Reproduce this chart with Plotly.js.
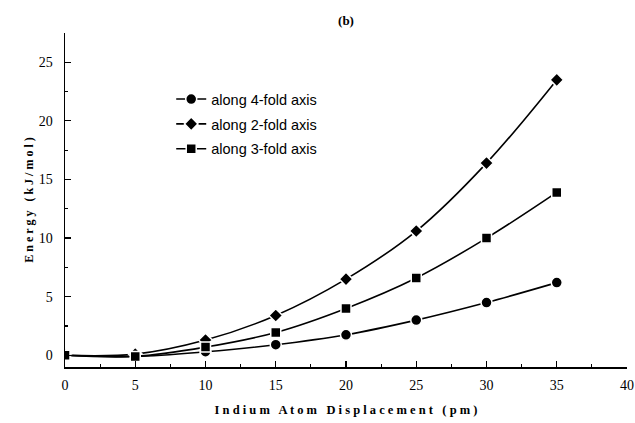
<!DOCTYPE html>
<html><head><meta charset="utf-8">
<script src="https://cdn.plot.ly/plotly-3.0.1.min.js"></script>
<style>body{margin:0;background:#fff}#c{width:635px;height:423px}</style>
</head><body><div id="c"></div>
<script>
const displacement = [0, 5, 10, 15, 20, 25, 30, 35];
const fold4 = [0, -0.1, 0.3, 0.9, 1.75, 3.0, 4.5, 6.2];
const fold2 = [0, 0.1, 1.3, 3.4, 6.5, 10.6, 16.4, 23.5];
const fold3 = [0, -0.1, 0.7, 1.95, 4.0, 6.6, 10.0, 13.9];
const names = ['along 4-fold axis', 'along 2-fold axis', 'along 3-fold axis'];
const xTicks = [0, 5, 10, 15, 20, 25, 30, 35, 40];
const yTicks = [0, 5, 10, 15, 20, 25];

function tr(y, name, sym, size, grp) {
  return {x: displacement, y: y, name: name, mode: 'lines+markers', legendgroup: grp,
    line: {shape: 'spline', color: '#000', width: 1.6},
    marker: {symbol: sym, size: size, color: '#000', line: {color: '#fff', width: 1.5}}};
}
const data = [
  tr(fold4, names[0], 'circle', 11, 'a'),
  tr(fold2, names[1], 'diamond', 10.5, 'b'),
  tr(fold3, names[2], 'square', 10, 'c')
];
const serif = 'Liberation Serif, Times New Roman, serif';
const layout = {
  width: 635, height: 423,
  margin: {l: 65, r: 8, t: 33, b: 56},
  paper_bgcolor: '#fff', plot_bgcolor: '#fff',
  showlegend: true,
  legend: {x: 0.189, y: 0.85, xanchor: 'left', yanchor: 'top', bgcolor: 'rgba(0,0,0,0)',
    font: {family: 'Liberation Sans, Arial, sans-serif', size: 14.5, color: '#000'}, tracegroupgap: 3, itemwidth: 30},
  title: {text: '<b>(b)</b>', x: 0.5, xref: 'paper', y: 0.952, yanchor: 'middle',
    font: {family: serif, size: 13, color: '#000'}},
  xaxis: {range: [0, 40], tickvals: xTicks, ticktext: xTicks.map(String),
    ticks: 'inside', ticklen: 6, tickwidth: 1.2, tickcolor: '#000', ticklabelstandoff: 5,
    minor: {dtick: 2.5, ticks: 'inside', ticklen: 3, tickcolor: '#000'},
    showline: true, linecolor: '#000', linewidth: 1.5, showgrid: false, zeroline: false,
    tickfont: {family: serif, size: 14, color: '#000'},
    title: {text: '<b>I n d i u m   A t o m   D i s p l a c e m e n t   ( p m )</b>', standoff: 13,
      font: {family: serif, size: 12.5, color: '#000'}}},
  yaxis: {range: [-1, 27.5], tickvals: yTicks, ticktext: yTicks.map(String),
    ticks: 'inside', ticklen: 6, tickwidth: 1.2, tickcolor: '#000', ticklabelstandoff: 8,
    minor: {dtick: 2.5, ticks: 'inside', ticklen: 3, tickcolor: '#000'},
    showline: true, linecolor: '#000', linewidth: 1.5, showgrid: false, zeroline: false,
    tickfont: {family: serif, size: 14, color: '#000'},
    title: {text: '<b>E n e r g y   ( k J / m o l )</b>', standoff: 2,
      font: {family: serif, size: 12, color: '#000'}}}
};
Plotly.newPlot('c', data, layout, {displayModeBar: false, staticPlot: true});
</script></body></html>
